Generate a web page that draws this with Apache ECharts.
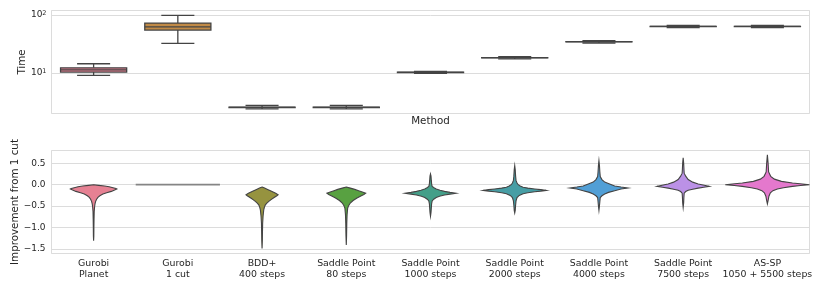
<!DOCTYPE html>
<html><head><meta charset="utf-8">
<script src="https://cdn.jsdelivr.net/npm/echarts@6/dist/echarts.min.js"></script>
<style>html,body{margin:0;padding:0;background:#fff}#c{width:830px;height:291px}</style>
</head><body><div id="c"></div>
<script>
// ---------- data ----------
const categories = [
  'Gurobi\nPlanet', 'Gurobi\n1 cut', 'BDD+\n400 steps', 'Saddle Point\n80 steps',
  'Saddle Point\n1000 steps', 'Saddle Point\n2000 steps', 'Saddle Point\n4000 steps',
  'Saddle Point\n7500 steps', 'AS-SP\n1050 + 5500 steps'
];
// Time box plots: [lower whisker, Q1, median, Q3, upper whisker]
const timeBoxes = [
  [9.1, 10.4, 11.35, 12.3, 14.45],
  [32.5, 55.1, 62.8, 72.8, 98.9],
  [2.4, 2.55, 2.56, 2.57, 2.76],
  [2.4, 2.55, 2.56, 2.57, 2.76],
  [9.85, 10.25, 10.28, 10.31, 10.7],
  [17.5, 18.35, 18.4, 18.45, 19.2],
  [33.0, 34.6, 34.7, 34.8, 36.2],
  [61.0, 63.6, 63.8, 64.0, 66.6],
  [61.0, 63.5, 63.7, 63.9, 66.5]
];
// Violin profiles of "Improvement from 1 cut": [value, relative density]
const violinPlanet = [[0.0,0],[-0.015,0.119],[-0.031,0.262],[-0.05,0.369],[-0.07,0.46],[-0.09,0.531],[-0.102,0.552],[-0.12,0.512],[-0.157,0.421],[-0.19,0.31],[-0.219,0.221],[-0.26,0.148],[-0.297,0.102],[-0.34,0.071],[-0.39,0.048],[-0.45,0.033],[-0.51,0.024],[-0.63,0.014],[-0.8,0.01],[-1.0,0.007],[-1.2,0.005],[-1.31,0]];
const violin1cut = [[0.0,1.0]];
const violinBDD = [[-0.054,0],[-0.08,0.06],[-0.11,0.131],[-0.14,0.198],[-0.17,0.262],[-0.2,0.324],[-0.235,0.381],[-0.26,0.352],[-0.29,0.305],[-0.313,0.269],[-0.35,0.214],[-0.39,0.16],[-0.43,0.114],[-0.47,0.079],[-0.53,0.055],[-0.59,0.04],[-0.74,0.024],[-0.9,0.014],[-1.1,0.01],[-1.3,0.007],[-1.49,0]];
const violinSP80 = [[-0.054,0],[-0.08,0.095],[-0.11,0.202],[-0.14,0.293],[-0.17,0.381],[-0.2,0.46],[-0.23,0.417],[-0.258,0.357],[-0.31,0.255],[-0.37,0.162],[-0.43,0.095],[-0.49,0.055],[-0.55,0.033],[-0.7,0.019],[-0.9,0.012],[-1.2,0.007],[-1.41,0]];
const violinSP1000 = [[0.25,0],[0.2,0.012],[0.1,0.019],[0.0,0.029],[-0.04,0.04],[-0.07,0.083],[-0.1,0.136],[-0.13,0.226],[-0.157,0.333],[-0.18,0.464],[-0.2,0.6],[-0.22,0.464],[-0.24,0.333],[-0.27,0.214],[-0.3,0.136],[-0.34,0.076],[-0.38,0.04],[-0.45,0.026],[-0.55,0.019],[-0.65,0.012],[-0.74,0]];
const violinSP2000 = [[0.446,0],[0.35,0.012],[0.2,0.021],[0.1,0.031],[0.04,0.055],[0.0,0.083],[-0.03,0.131],[-0.058,0.198],[-0.08,0.31],[-0.1,0.476],[-0.115,0.619],[-0.133,0.745],[-0.15,0.619],[-0.164,0.476],[-0.19,0.31],[-0.21,0.198],[-0.25,0.107],[-0.3,0.055],[-0.38,0.031],[-0.5,0.019],[-0.6,0.012],[-0.66,0]];
const violinSP4000 = [[0.56,0],[0.45,0.012],[0.3,0.021],[0.19,0.031],[0.12,0.071],[0.06,0.136],[0.02,0.238],[-0.03,0.374],[-0.055,0.524],[-0.078,0.686],[-0.1,0.524],[-0.14,0.374],[-0.18,0.226],[-0.22,0.136],[-0.26,0.071],[-0.3,0.031],[-0.4,0.021],[-0.5,0.012],[-0.6,0]];
const violinSP7500 = [[0.63,0],[0.5,0.012],[0.35,0.019],[0.27,0.024],[0.2,0.06],[0.12,0.119],[0.06,0.226],[0.016,0.357],[-0.015,0.5],[-0.04,0.619],[-0.06,0.488],[-0.08,0.357],[-0.105,0.226],[-0.13,0.119],[-0.16,0.06],[-0.2,0.024],[-0.3,0.017],[-0.42,0.012],[-0.53,0]];
const violinASSP = [[0.7,0],[0.5,0.017],[0.3,0.029],[0.195,0.079],[0.13,0.167],[0.078,0.333],[0.04,0.595],[0.017,0.833],[0.0,1.0],[-0.02,0.786],[-0.04,0.595],[-0.07,0.381],[-0.1,0.238],[-0.14,0.131],[-0.19,0.071],[-0.27,0.036],[-0.36,0.019],[-0.45,0]];
const violins = [violinPlanet, violin1cut, violinBDD, violinSP80, violinSP1000, violinSP2000, violinSP4000, violinSP7500, violinASSP];
const improvementTicks = [-1.5, -1.0, -0.5, 0.0, 0.5];

// ---------- style ----------
const palette = ['#e68193', '#c18a46', '#96933f', '#58a141', '#449f89', '#479ea5', '#519fd6', '#bb91e6', '#e478cd'];
const edge = '#444444';
const textColor = '#262626';
const gridColor = '#dcdcdc';
const FONT = 'DejaVu Sans';

const chart = echarts.init(document.getElementById('c'), null, {renderer: 'canvas'});

function renderBox(params, api) {
  const i = params.dataIndex;
  const x = api.value(0);
  const slot = api.size([1, 1], [x, 10])[0];
  const bw = slot * 0.785;
  const c = api.coord([x, api.value(3)])[0];
  const y = k => api.coord([x, api.value(k)])[1];
  const lo = y(1), q1 = y(2), md = y(3), q3 = y(4), hi = y(5);
  const ls = {stroke: edge, lineWidth: 1.3, fill: null};
  return {
    type: 'group',
    children: [
      {type: 'line', shape: {x1: c, y1: q1, x2: c, y2: lo}, style: ls},
      {type: 'line', shape: {x1: c, y1: q3, x2: c, y2: hi}, style: ls},
      {type: 'line', shape: {x1: c - bw / 4, y1: lo, x2: c + bw / 4, y2: lo}, style: ls},
      {type: 'line', shape: {x1: c - bw / 4, y1: hi, x2: c + bw / 4, y2: hi}, style: ls},
      {type: 'rect', shape: {x: c - bw / 2, y: q3, width: bw, height: Math.max(q1 - q3, 0.3)},
        style: {fill: palette[i], stroke: edge, lineWidth: 1.3}},
      {type: 'line', shape: {x1: c - bw / 2, y1: md, x2: c + bw / 2, y2: md}, style: ls}
    ]
  };
}

function renderViolin(params, api) {
  const i = params.dataIndex;
  const x = api.value(0);
  const prof = violins[i];
  const slot = api.size([1, 0], [x, 0])[0];
  const half = slot * 0.5;
  const cx = api.coord([x, 0])[0];
  if (prof.length === 1) {
    const yy = api.coord([x, prof[0][0]])[1];
    const w = prof[0][1] * half;
    return {type: 'line', shape: {x1: cx - w, y1: yy, x2: cx + w, y2: yy},
      style: {stroke: '#858585', lineWidth: 1.8}};
  }
  const pts = [];
  for (let k = 0; k < prof.length; k++) {
    const p = api.coord([x, prof[k][0]]);
    pts.push([cx + prof[k][1] * half, p[1]]);
  }
  for (let k = prof.length - 1; k >= 0; k--) {
    const p = api.coord([x, prof[k][0]]);
    pts.push([cx - prof[k][1] * half, p[1]]);
  }
  return {type: 'polygon', shape: {points: pts},
    style: {fill: palette[i], stroke: edge, lineWidth: 1.1}};
}

const fmtImp = v => {
  if (!improvementTicks.some(t => Math.abs(t - v) < 1e-6)) return '';
  return v.toFixed(1).replace('-', '\u2212');
};
const fmtLog = v => {
  const e = Math.round(Math.log10(v));
  if (Math.abs(Math.log10(v) - e) > 1e-6) return '';
  return '10{s|' + e + '}';
};

chart.setOption({
  animation: false,
  backgroundColor: '#fff',
  textStyle: {fontFamily: FONT, color: textColor},
  grid: [
    {left: 51.5, top: 10.5, width: 758, height: 103, show: true, borderColor: gridColor, borderWidth: 1, outerBoundsMode: 'none', containLabel: false},
    {left: 51.5, top: 150.5, width: 758, height: 103, show: true, borderColor: gridColor, borderWidth: 1, outerBoundsMode: 'none', containLabel: false}
  ],
  xAxis: [
    {type: 'category', gridIndex: 0, data: categories, boundaryGap: true,
      axisLine: {show: false}, axisTick: {show: false}, axisLabel: {show: false}, splitLine: {show: false},
      name: 'Method', nameLocation: 'middle', nameGap: 3, nameMoveOverlap: false,
      nameTextStyle: {fontFamily: FONT, fontSize: 10.3, color: textColor, verticalAlign: 'top'}},
    {type: 'category', gridIndex: 1, data: categories, boundaryGap: true,
      axisLine: {show: false}, axisTick: {show: false}, splitLine: {show: false},
      axisLabel: {interval: 0, margin: 5, fontFamily: FONT, fontSize: 9.4, lineHeight: 10.7, color: textColor, align: 'center'}}
  ],
  yAxis: [
    {type: 'log', logBase: 10, gridIndex: 0, min: 2.0, max: 120,
      axisLine: {show: false}, axisTick: {show: false},
      splitLine: {show: true, lineStyle: {color: gridColor, width: 1}},
      axisLabel: {margin: 5, formatter: fmtLog, showMinLabel: false, showMaxLabel: false,
        fontFamily: FONT, fontSize: 9, color: textColor, lineHeight: 11,
        rich: {s: {fontSize: 6.5, verticalAlign: 'top', lineHeight: 7, fontFamily: FONT, color: textColor, padding: [0, 0, 6, 0]}}},
      name: 'Time', nameLocation: 'middle', nameGap: 24, nameMoveOverlap: false,
      nameTextStyle: {fontFamily: FONT, fontSize: 10.3, color: textColor}},
    {type: 'value', gridIndex: 1, min: -1.61, max: 0.8, splitNumber: 5,
      axisLine: {show: false}, axisTick: {show: false},
      splitLine: {show: true, lineStyle: {color: gridColor, width: 1}},
      axisLabel: {margin: 6, formatter: fmtImp, showMinLabel: false, showMaxLabel: false,
        fontFamily: FONT, fontSize: 9, color: textColor},
      name: 'Improvement from 1 cut', nameLocation: 'middle', nameGap: 31, nameMoveOverlap: false,
      nameTextStyle: {fontFamily: FONT, fontSize: 10.3, color: textColor}}
  ],
  series: [
    {type: 'custom', xAxisIndex: 0, yAxisIndex: 0, renderItem: renderBox,
      encode: {x: 0, y: [1, 2, 3, 4, 5]},
      data: timeBoxes.map((b, i) => [i].concat(b)), z: 5},
    {type: 'custom', xAxisIndex: 1, yAxisIndex: 1, renderItem: renderViolin,
      encode: {x: 0, y: 1},
      data: violins.map((p, i) => [i, p[0][0]]), z: 5}
  ]
});
</script></body></html>
